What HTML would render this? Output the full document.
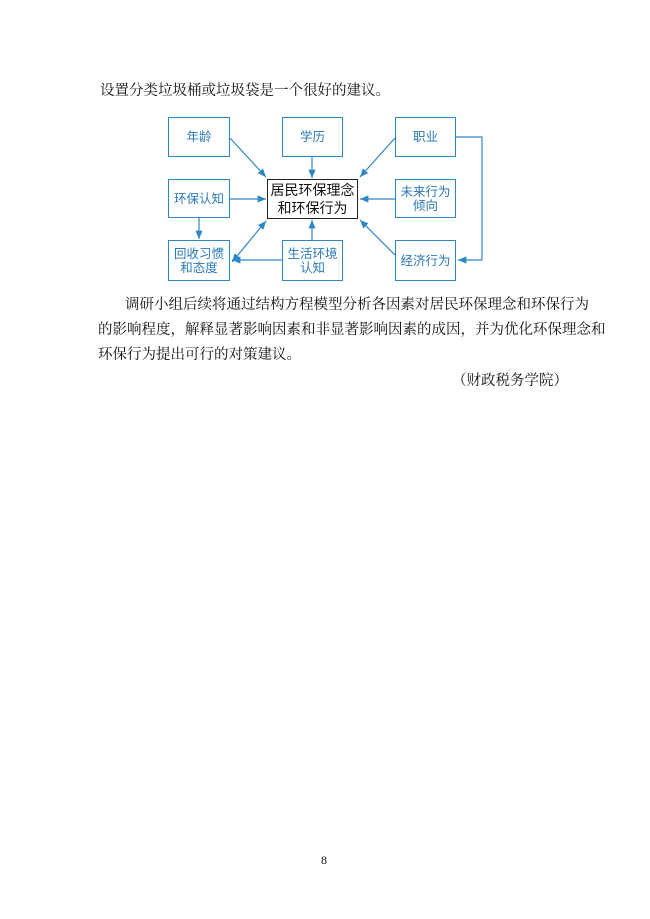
<!DOCTYPE html>
<html><head><meta charset="utf-8"><style>
body{margin:0;width:650px;height:919px;background:#fff;position:relative;font-family:"Liberation Serif","Noto Serif CJK SC",serif;color:#111;}
.t{position:absolute;font-size:14.5px;line-height:18px;white-space:nowrap;text-align:justify;text-align-last:justify;}
.b{position:absolute;box-sizing:border-box;border:1.5px solid #2f86c4;color:#2a78b8;font-family:"Liberation Sans","Noto Sans CJK SC",sans-serif;font-size:12.5px;display:flex;align-items:center;justify-content:center;text-align:center;line-height:14px;}
.c{position:absolute;box-sizing:border-box;border:1.5px solid #222;font-family:"Liberation Sans","Noto Sans CJK SC",sans-serif;font-size:14px;line-height:18px;display:flex;align-items:center;justify-content:center;text-align:center;}
</style></head><body>
<div class="t" style="left:100px;top:82px;width:258px">设置分类垃圾桶或垃圾袋是一个很好的建议。</div>
<svg style="position:absolute;left:0;top:0" width="650" height="919">
<defs><marker id="a" markerWidth="8" markerHeight="8" refX="7" refY="4" orient="auto-start-reverse"><path d="M0,1 L7,4 L0,7 z" fill="#2f86c4"/></marker></defs>
<g stroke="#2f86c4" stroke-width="1.2" fill="none" marker-end="url(#a)">
<line x1="230" y1="138" x2="266" y2="177"/>
<line x1="312" y1="157" x2="312" y2="178"/>
<line x1="395" y1="138" x2="360" y2="177"/>
<line x1="230" y1="199" x2="266" y2="199"/>
<line x1="395" y1="199" x2="360" y2="199"/>
<line x1="199" y1="218" x2="199" y2="239"/>
<line x1="312" y1="240" x2="312" y2="220"/>
<line x1="395" y1="255" x2="360" y2="220"/>
<line x1="282" y1="260" x2="232" y2="260"/>
<line x1="266" y1="221" x2="232" y2="262" marker-start="url(#a)"/>
<polyline points="456,137 482,137 482,260 458,260"/>
</g></svg>
<div class="b" style="left:168px;top:117px;width:62px;height:40px">年龄</div>
<div class="b" style="left:282px;top:117px;width:61px;height:40px">学历</div>
<div class="b" style="left:395px;top:117px;width:61px;height:40px">职业</div>
<div class="b" style="left:168px;top:179px;width:62px;height:39px">环保认知</div>
<div class="c" style="left:267px;top:179px;width:91px;height:40px">居民环保理念<br>和环保行为</div>
<div class="b" style="left:395px;top:179px;width:61px;height:39px">未来行为<br>倾向</div>
<div class="b" style="left:168px;top:240px;width:62px;height:41px">回收习惯<br>和态度</div>
<div class="b" style="left:282px;top:240px;width:61px;height:41px">生活环境<br>认知</div>
<div class="b" style="left:395px;top:240px;width:61px;height:41px">经济行为</div>
<div class="t" style="left:125px;top:296px;width:427px">调研小组后续将通过结构方程模型分析各因素对居民环保理念和环保行为</div>
<div class="t" style="left:98px;top:321px;width:454px">的影响程度，解释显著影响因素和非显著影响因素的成因，并为优化环保理念和</div>
<div class="t" style="left:98px;top:346px;width:200px">环保行为提出可行的对策建议。</div>
<div class="t" style="left:452px;top:372px;width:96px">（财政税务学院）</div>
<div class="t" style="left:321px;top:851px;font-size:12px">8</div>
</body></html>
